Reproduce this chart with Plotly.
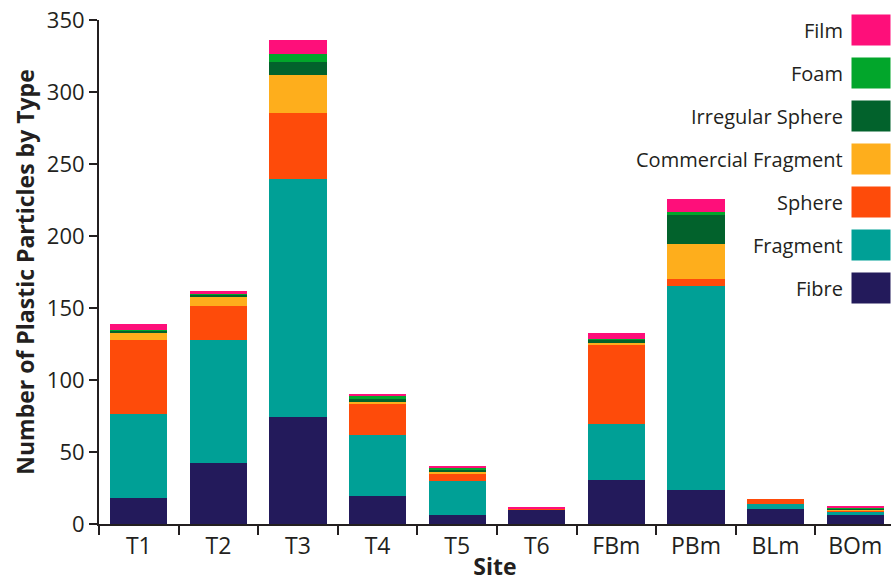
import plotly.graph_objects as go

sites = ["T1", "T2", "T3", "T4", "T5", "T6", "FBm", "PBm", "BLm", "BOm"]

fibre      = [18.3, 42.4, 74.3, 19.2, 6.2, 10.2, 30.3, 23.4, 10.2, 6.1]
fragment   = [58.3, 85.4, 165.3, 42.4, 23.9, 0.0, 39.1, 142.1, 4.0, 2.5]
sphere     = [51.2, 23.8, 46.3, 21.7, 5.1, 0.8, 55.1, 4.4, 3.5, 0.7]
commercial = [5.2, 6.2, 26.1, 1.4, 0.9, 0.0, 1.2, 25.0, 0.0, 0.8]
irregular  = [1.5, 1.7, 8.8, 2.3, 1.4, 0.0, 2.8, 20.1, 0.0, 0.4]
foam       = [0.5, 0.4, 6.1, 1.9, 1.4, 0.0, 0.3, 2.1, 0.0, 1.2]
film       = [4.0, 2.3, 9.1, 1.6, 1.6, 0.3, 3.9, 8.6, 0.0, 0.6]

y_ticks = [0, 50, 100, 150, 200, 250, 300, 350]

series_names = ["Fibre", "Fragment", "Sphere", "Commercial Fragment",
                "Irregular Sphere", "Foam", "Film"]
series_values = [fibre, fragment, sphere, commercial, irregular, foam, film]
colors = ["#231a5b", "#00a096", "#fe4b0a", "#feae1c", "#02622c", "#02a62b", "#fe0f7a"]

FONT = "Open Sans"
TEXT = "#231f20"

fig = go.Figure()
for name, vals, col in zip(series_names, series_values, colors):
    fig.add_trace(go.Bar(x=sites, y=vals, name=name, marker=dict(color=col, line=dict(width=0)),
                         showlegend=False))

# custom legend: text on the left, swatch on the right
annotations = []
top_y = 0.980
step = 0.0853
for i, (name, col) in enumerate(zip(series_names[::-1], colors[::-1])):
    y = top_y - i * step
    annotations.append(dict(xref="paper", yref="paper", x=0.942, y=y, text=name,
                            showarrow=False, xanchor="right", yanchor="middle",
                            font=dict(family=FONT, size=20, color=TEXT)))
    annotations.append(dict(xref="paper", yref="paper", x=1.0, y=y, text=" ",
                            showarrow=False, xanchor="right", yanchor="middle",
                            bgcolor=col, width=38, height=30, borderpad=0,
                            font=dict(size=10)))

fig.update_layout(
    width=891, height=582,
    barmode="stack", bargap=0.28,
    margin=dict(l=99, r=0, t=20, b=58, autoexpand=False),
    plot_bgcolor="white", paper_bgcolor="white",
    font=dict(family=FONT, size=22, color=TEXT),
    annotations=annotations,
    hovermode=False,
    xaxis=dict(
        range=[-0.5, 9.45], showline=True, linecolor=TEXT, linewidth=2,
        ticks="outside", tickson="boundaries", ticklen=9, tickwidth=2, tickcolor=TEXT,
        showgrid=False, zeroline=False,
        tickfont=dict(family=FONT, size=23, color=TEXT),
        title=dict(text="<b>Site</b>", standoff=0,
                   font=dict(family=FONT, size=23, color=TEXT)),
    ),
    yaxis=dict(
        range=[0, 350.2], tickmode="array", tickvals=y_ticks,
        ticktext=[str(v) for v in y_ticks], ticklabeloverflow="allow",
        showline=True, linecolor=TEXT, linewidth=2,
        ticks="outside", ticklen=8, tickwidth=2, tickcolor=TEXT,
        showgrid=False, zeroline=False,
        tickfont=dict(family=FONT, size=22, color=TEXT),
        title=dict(text="<b>Number of Plastic Particles by Type</b>", standoff=6,
                   font=dict(family=FONT, size=23, color=TEXT)),
    ),
)

fig.write_html("out.html", config={"displayModeBar": False},
               post_script="document.body.style.margin='0px';document.body.style.overflow='hidden';")
